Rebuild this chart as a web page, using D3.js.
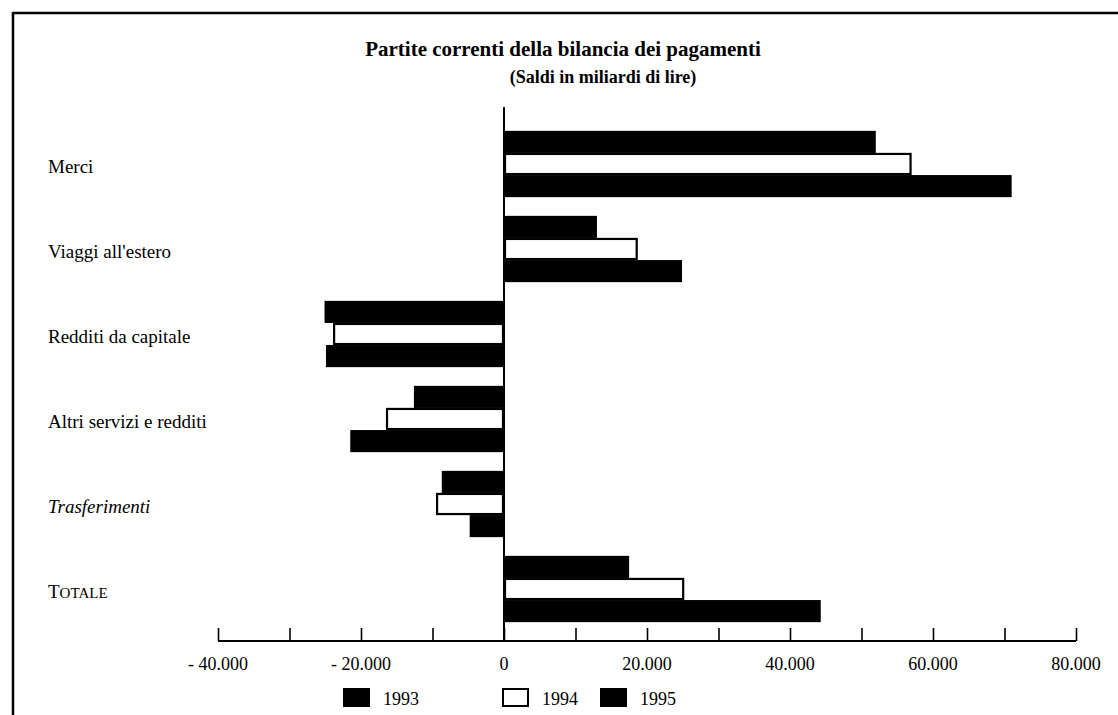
<!DOCTYPE html>
<html>
<head>
<meta charset="utf-8">
<script src="https://cdn.jsdelivr.net/npm/d3@7"></script>
<style>
  html, body { margin: 0; padding: 0; background: #fff; }
  svg { display: block; }
  text { font-family: "Liberation Serif", "DejaVu Serif", serif; fill: #000; }
</style>
</head>
<body>
<svg id="chart" width="1118" height="715"></svg>
<script>
const categories = ["Merci", "Viaggi all'estero", "Redditi da capitale", "Altri servizi e redditi", "Trasferimenti", "TOTALE"];
const years = ["1993", "1994", "1995"];
const values1993 = [52000, 13000, -25100, -12600, -8700, 17500];
const values1994 = [57000, 18700, -23900, -16500, -9500, 25200];
const values1995 = [71000, 24900, -24900, -21500, -4800, 44300];
const tickValues = [-40000, -30000, -20000, -10000, 0, 10000, 20000, 30000, 40000, 50000, 60000, 70000, 80000];
const tickLabels = {"-40000": "- 40.000", "-20000": "- 20.000", "0": "0", "20000": "20.000", "40000": "40.000", "60000": "60.000", "80000": "80.000"};
const titleText = "Partite correnti della bilancia dei pagamenti";
const subtitleText = "(Saldi in miliardi di lire)";

const seriesValues = {"1993": values1993, "1994": values1994, "1995": values1995};
const fills = {"1993": "#000", "1994": "#fff", "1995": "#000"};

const svg = d3.select("#chart");

// frame (scanned page border)
svg.append("line").attr("x1", 13).attr("y1", 13).attr("x2", 1118).attr("y2", 13)
  .attr("stroke", "#000").attr("stroke-width", 2.5);
svg.append("line").attr("x1", 13).attr("y1", 12).attr("x2", 13).attr("y2", 715)
  .attr("stroke", "#000").attr("stroke-width", 2.5);

// titles
svg.append("text").attr("x", 563).attr("y", 56).attr("text-anchor", "middle")
  .attr("font-size", 21).attr("font-weight", "bold").text(titleText);
svg.append("text").attr("x", 603).attr("y", 83).attr("text-anchor", "middle")
  .attr("font-size", 18).attr("font-weight", "bold").text(subtitleText);

const x = d3.scaleLinear().domain([-40000, 80000]).range([218, 1076]);
const y = d3.scaleBand().domain(categories).range([121.5, 631.5]).paddingInner(0.22).paddingOuter(0.11);
const ySub = d3.scaleBand().domain(years).range([0, y.bandwidth()]);

const axisY = 641;

// bars
const rows = [];
categories.forEach((c, i) => years.forEach(yr => rows.push({cat: c, year: yr, v: seriesValues[yr][i]})));

svg.append("g").selectAll("rect").data(rows).join("rect")
  .attr("x", d => x(Math.min(0, d.v)) + (d.year === "1994" ? 1 : 0))
  .attr("y", d => y(d.cat) + ySub(d.year) + (d.year === "1994" ? 1 : 0))
  .attr("width", d => Math.abs(x(d.v) - x(0)) - (d.year === "1994" ? 2 : 0))
  .attr("height", d => ySub.bandwidth() - (d.year === "1994" ? 2 : 0))
  .attr("fill", d => fills[d.year])
  .attr("stroke", d => d.year === "1994" ? "#000" : "none")
  .attr("stroke-width", 2.2);

// zero line
svg.append("line").attr("x1", x(0)).attr("x2", x(0)).attr("y1", 107).attr("y2", axisY)
  .attr("stroke", "#000").attr("stroke-width", 2);

// x axis
const xAxis = d3.axisTop(x).tickValues(tickValues).tickSize(13).tickSizeOuter(0).tickFormat(() => "");
const gx = svg.append("g").attr("transform", `translate(0,${axisY})`).call(xAxis);
gx.select(".domain").attr("stroke", "#000").attr("stroke-width", 2).attr("d", `M${x(-40000)},0H${x(80000)}`);
gx.selectAll(".tick line").attr("stroke", "#000").attr("stroke-width", 1.6);

svg.append("g").selectAll("text").data(tickValues.filter(v => tickLabels[String(v)] !== undefined)).join("text")
  .attr("x", d => x(d)).attr("y", 670).attr("text-anchor", "middle")
  .attr("font-size", 18).text(d => tickLabels[String(d)]);

// category labels
const labels = svg.append("g").selectAll("text").data(categories).join("text")
  .attr("x", 48).attr("y", d => y(d) + y.bandwidth() / 2 + 9)
  .attr("font-size", 19)
  .attr("font-style", d => d === "Trasferimenti" ? "italic" : "normal");
labels.each(function(d) {
  const t = d3.select(this);
  if (d === "TOTALE") {
    t.append("tspan").text("T");
    t.append("tspan").attr("font-size", 15).text("OTALE");
  } else {
    t.text(d);
  }
});

// legend
const legendX = [343, 502, 600];
const lg = svg.append("g").selectAll("g").data(years).join("g")
  .attr("transform", (d, i) => `translate(${legendX[i]},688)`);
lg.append("rect").attr("x", d => d === "1994" ? 1 : 0).attr("y", d => d === "1994" ? 1 : 0)
  .attr("width", d => d === "1994" ? 25 : 27).attr("height", d => d === "1994" ? 17 : 19)
  .attr("fill", d => fills[d]).attr("stroke", d => d === "1994" ? "#000" : "none").attr("stroke-width", 2);
lg.append("text").attr("x", 40).attr("y", 17).attr("font-size", 18).text(d => d);
</script>
</body>
</html>
